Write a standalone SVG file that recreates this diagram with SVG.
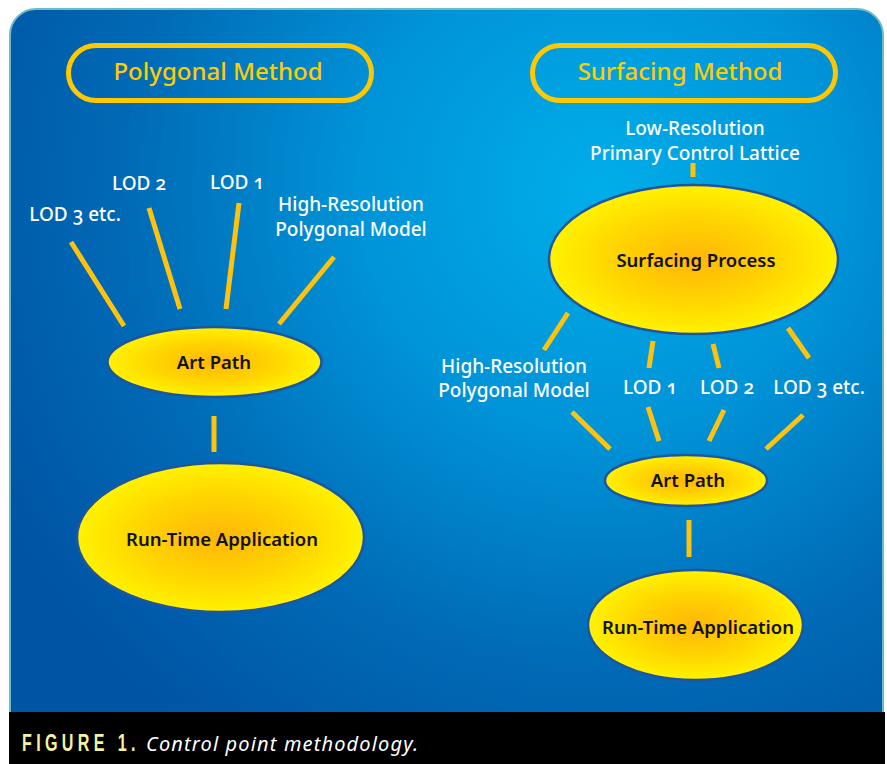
<svg xmlns="http://www.w3.org/2000/svg" width="887" height="764" viewBox="0 0 887 764">
  <defs>
    <radialGradient id="bg" cx="600" cy="190" r="680" gradientUnits="userSpaceOnUse">
      <stop offset="0" stop-color="#00aee9"/>
      <stop offset="0.35" stop-color="#0094d8"/>
      <stop offset="0.7" stop-color="#006ab6"/>
      <stop offset="1" stop-color="#0054a4"/>
    </radialGradient>
    <radialGradient id="node-fill" cx="0.5" cy="0.5" r="0.5">
      <stop offset="0" stop-color="#ffb60a"/>
      <stop offset="0.55" stop-color="#ffd400"/>
      <stop offset="1" stop-color="#fff200"/>
    </radialGradient>
    <style>
      .node { fill: url(#node-fill); stroke: #1d56a0; stroke-width: 2.5; }
      .node-label { font-family: "Noto Sans", "Open Sans", sans-serif; font-size: 18.5px; font-weight: 600; fill: #111; text-anchor: middle; }
      .label { font-family: "Noto Sans", "Open Sans", sans-serif; font-size: 19px; font-weight: 500; fill: #ffffff; text-anchor: middle; font-variant-numeric: oldstyle-nums; }
      .pill { fill: none; stroke: #ffc800; stroke-width: 5; }
      .pill-label { font-family: "Noto Sans", "Open Sans", sans-serif; font-size: 24px; font-weight: 500; fill: #ffcc00; text-anchor: middle; }
      .link { stroke: #ffc20e; stroke-width: 5; fill: none; }
    </style>
  </defs>

  <rect width="887" height="764" fill="#ffffff"/>

  <!-- panel -->
  <rect x="10" y="9" width="873" height="740" rx="26" fill="url(#bg)" stroke="#6cbcc4" stroke-width="2"/>

  <!-- caption bar -->
  <rect x="9" y="712" width="876" height="52" fill="#000000"/>
  <text transform="translate(22 751) scale(0.7 1)" font-family="Liberation Sans, Arial, sans-serif" font-weight="bold" font-size="23" letter-spacing="6.2" fill="#f6f19e">FIGURE 1.</text>
  <text x="146" y="751" font-family="Noto Sans, Open Sans, sans-serif" font-style="italic" font-size="20" fill="#ffffff" textLength="272" lengthAdjust="spacing">Control point methodology.</text>

  <!-- section titles -->
  <g id="polygonal-title">
    <rect class="pill" x="68.5" y="45.5" width="303" height="55" rx="27.5"/>
    <text class="pill-label" x="218" y="80">Polygonal Method</text>
  </g>
  <g id="surfacing-title">
    <rect class="pill" x="532.5" y="45.5" width="303" height="55" rx="27.5"/>
    <text class="pill-label" x="680" y="80">Surfacing Method</text>
  </g>

  <!-- connectors -->
  <g id="connectors">
    <line class="link" x1="71" y1="242" x2="124" y2="326"/>
    <line class="link" x1="149" y1="208" x2="180" y2="309"/>
    <line class="link" x1="239" y1="203" x2="226" y2="309"/>
    <line class="link" x1="334" y1="257" x2="279" y2="324"/>
    <line class="link" x1="214" y1="416" x2="214" y2="452"/>

    <line class="link" x1="693" y1="163" x2="693" y2="177" stroke-width="3"/>
    <line class="link" x1="568" y1="313" x2="544" y2="350"/>
    <line class="link" x1="653" y1="341" x2="649" y2="368"/>
    <line class="link" x1="713" y1="344" x2="719" y2="368"/>
    <line class="link" x1="788" y1="328" x2="809" y2="358"/>
    <line class="link" x1="572" y1="412" x2="610" y2="449"/>
    <line class="link" x1="648" y1="407" x2="659" y2="441"/>
    <line class="link" x1="724" y1="410" x2="709" y2="441"/>
    <line class="link" x1="803" y1="415" x2="766" y2="449"/>
    <line class="link" x1="689" y1="520" x2="689" y2="557"/>
  </g>

  <!-- polygonal method inputs -->
  <g id="poly-lod3"><text class="label" x="75" y="221">LOD 3 etc.</text></g>
  <g id="poly-lod2"><text class="label" x="139" y="190">LOD 2</text></g>
  <g id="poly-lod1"><text class="label" x="237" y="189">LOD 1</text></g>
  <g id="poly-hires">
    <text class="label" x="351" y="211">High-Resolution</text>
    <text class="label" x="351" y="236">Polygonal Model</text>
  </g>

  <g id="poly-art-path">
    <ellipse class="node" cx="214.5" cy="362" rx="107" ry="35"/>
    <text class="node-label" x="214" y="369">Art Path</text>
  </g>
  <g id="poly-runtime">
    <ellipse class="node" cx="220.5" cy="537.5" rx="143.5" ry="74.5"/>
    <text class="node-label" x="222" y="546">Run-Time Application</text>
  </g>

  <!-- surfacing method -->
  <g id="surf-lattice">
    <text class="label" x="695" y="135">Low-Resolution</text>
    <text class="label" x="695" y="160">Primary Control Lattice</text>
  </g>
  <g id="surf-process">
    <ellipse class="node" cx="693.5" cy="259.5" rx="144.5" ry="74.5"/>
    <text class="node-label" x="696" y="267">Surfacing Process</text>
  </g>
  <g id="surf-hires">
    <text class="label" x="514" y="373">High-Resolution</text>
    <text class="label" x="514" y="397">Polygonal Model</text>
  </g>
  <g id="surf-lod1"><text class="label" x="650" y="394">LOD 1</text></g>
  <g id="surf-lod2"><text class="label" x="727" y="394">LOD 2</text></g>
  <g id="surf-lod3"><text class="label" x="819" y="394">LOD 3 etc.</text></g>

  <g id="surf-art-path">
    <ellipse class="node" cx="686" cy="480.5" rx="81" ry="25.5"/>
    <text class="node-label" x="688" y="487">Art Path</text>
  </g>
  <g id="surf-runtime">
    <ellipse class="node" cx="695.5" cy="625" rx="107.5" ry="55"/>
    <text class="node-label" x="698" y="634">Run-Time Application</text>
  </g>
</svg>
